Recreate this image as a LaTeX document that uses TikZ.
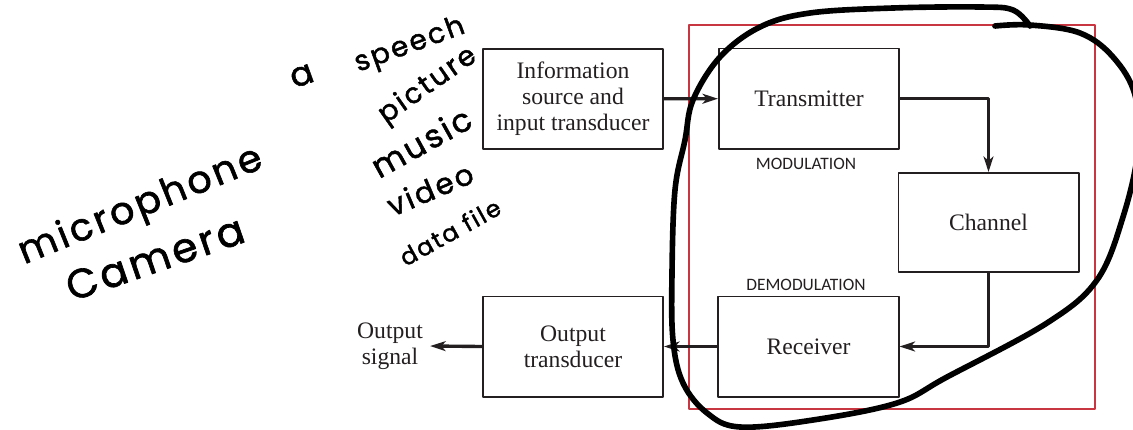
\documentclass[tikz,border=0pt]{standalone}
\usepackage{fontspec}
\setmainfont{Liberation Serif}
\newfontfamily\labelfont{Carlito}
\newfontfamily\handfont[LetterSpace=8,FakeBold=1.6]{Poppins}
\usetikzlibrary{arrows.meta}
\definecolor{ink}{RGB}{35,31,32}
\definecolor{frame}{RGB}{200,55,65}
\begin{document}
\begin{tikzpicture}[x=0.025cm,y=-0.025cm,line join=round,>={Stealth[length=11pt,width=7pt,inset=3pt]},font=\fontsize{16.8}{18.4}\selectfont]
\tikzset{block/.style={draw=ink,line width=1.4pt,minimum width=4.5cm,minimum height=2.5cm,inner sep=0pt,align=center,text=ink},
	link/.style={draw=ink,line width=2.4pt,->},
	tag/.style={font=\labelfont\fontsize{12.4}{14}\selectfont,text=ink},
	hand/.style={font=\handfont\fontsize{#1}{#1}\selectfont,inner sep=0pt}}
\useasboundingbox (0,0) rectangle (1133,429);
\draw[frame,line width=1pt] (689,25) rectangle (1095,409);
\node[block] (src) at (573,99) {Information\\source and\\input transducer};
\node[block] (tx) at (809,98.5) {Transmitter};
\node[block,minimum height=2.475cm] (chan) at (988.5,222.5) {Channel};
\node[block] (rx) at (808.5,346.5) {Receiver};
\node[block] (out) at (573,346.5) {Output\\transducer};
\node[align=center,text=ink,inner sep=0pt] (sig) at (390,346) {Output\\signal};
\node[tag] (mod) at (806,164) {MODULATION};
\node[tag] (demod) at (806,285) {DEMODULATION};
\draw[link] (src) -- (tx);
\draw[link] (tx.east) -| (chan.north);
\draw[link] (chan.south) |- (rx.east);
\draw[link] (rx) -- (out);
\draw[link] (out.west) -- ([xshift=5pt]sig.east);
% notes written over the figure
\node[hand=27,rotate=22] (mic) at (141,207) {microphone};
\node[hand=29,rotate=19] (cam) at (155,258) {Camera};
\node[hand=24,rotate=20] (a) at (302,76) {a};
\node[hand=20,rotate=20] (speech) at (410,46) {speech};
\node[hand=20,rotate=35] (pic) at (428,86) {picture};
\node[hand=23,rotate=29] (music) at (421,142) {music};
\node[hand=21,rotate=23] (video) at (430,189) {video};
\node[hand=17,rotate=29] (data) at (450,232) {data file};
\draw[line width=4pt,line cap=round] plot[smooth,tension=0.6] coordinates {(995,26) (1030,25) (1080,33) (1113,57) (1135,95) (1138,150) (1123,217) (1097,280) (1047,323) (947,377) (897,403) (813,420) (740,427) (707,413) (683,383) (673,340) (672,273) (675,190) (685,140) (693,100) (720,57) (760,27) (810,13) (893,8) (980,7) (1013,10) (1030,26)};
\end{tikzpicture}
\end{document}
